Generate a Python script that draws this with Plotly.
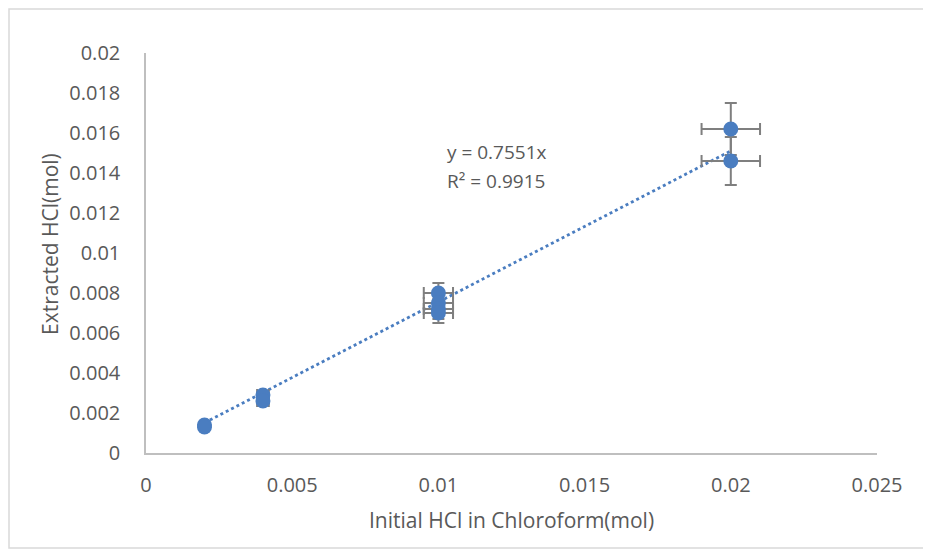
import plotly.graph_objects as go

# Data
initial_hcl = [0.002, 0.002, 0.004, 0.004, 0.01, 0.01, 0.01, 0.01, 0.02, 0.02]
extracted_hcl = [0.0014, 0.0013, 0.0029, 0.0026, 0.0080, 0.0075, 0.0072, 0.0070, 0.0162, 0.0146]
x_err = [0.0001, 0.0001, 0.0002, 0.0002, 0.0005, 0.0005, 0.0005, 0.0005, 0.001, 0.001]
y_err = [0.0001, 0.0001, 0.0002, 0.0002, 0.0005, 0.0005, 0.0005, 0.0005, 0.0013, 0.0012]

trend_slope = 0.7551
trend_r2 = 0.9915
trend_x = [0.002, 0.02]

x_ticks = [0, 0.005, 0.01, 0.015, 0.02, 0.025]
x_tick_labels = ["0", "0.005", "0.01", "0.015", "0.02", "0.025"]
y_ticks = [0, 0.002, 0.004, 0.006, 0.008, 0.01, 0.012, 0.014, 0.016, 0.018, 0.02]
y_tick_labels = ["0", "0.002", "0.004", "0.006", "0.008", "0.01", "0.012", "0.014", "0.016", "0.018", "0.02"]

BLUE = "#4A7DC0"
GRAY_TXT = "#595959"
FONT = "Open Sans"

# page offsets (browser body margin of 8px)
PL, PT, PW, PH = 146, 53, 731, 400


def px(page_x):
    return (page_x - PL) / PW


def py(page_y):
    return (PT + PH - page_y) / PH


fig = go.Figure()

fig.add_trace(go.Scatter(
    x=trend_x, y=[trend_slope * v for v in trend_x],
    mode="lines", line=dict(color=BLUE, width=2.8, dash="dot"),
    hoverinfo="skip", showlegend=False,
))

fig.add_trace(go.Scatter(
    x=initial_hcl, y=extracted_hcl, mode="markers",
    marker=dict(color=BLUE, size=15),
    error_x=dict(type="data", array=x_err, color="#7f7f7f", thickness=2, width=6),
    error_y=dict(type="data", array=y_err, color="#7f7f7f", thickness=2, width=6),
    showlegend=False,
))

fig.add_annotation(
    x=px(445), y=py(152), xref="paper", yref="paper", xanchor="left", yanchor="middle",
    text=f"y = {trend_slope}x", showarrow=False,
    font=dict(family=FONT, size=19, color=GRAY_TXT),
)
fig.add_annotation(
    x=px(445), y=py(181), xref="paper", yref="paper", xanchor="left", yanchor="middle",
    text=f"R² = {trend_r2}", showarrow=False,
    font=dict(family=FONT, size=19, color=GRAY_TXT),
)

# axis titles
fig.add_annotation(
    x=0.5, y=py(520), xref="paper", yref="paper", xanchor="center", yanchor="middle",
    text="Initial HCl in Chloroform(mol)", showarrow=False,
    font=dict(family=FONT, size=21, color=GRAY_TXT),
)
fig.add_annotation(
    x=px(50), y=py(244), xref="paper", yref="paper", xanchor="center", yanchor="middle",
    text="Extracted HCl(mol)", showarrow=False, textangle=-90,
    font=dict(family=FONT, size=21, color=GRAY_TXT),
)

fig.update_xaxes(
    range=[0, 0.025], tickvals=x_ticks, ticktext=x_tick_labels,
    showgrid=False, zeroline=False, showline=True, linecolor="#bfbfbf", linewidth=1.5,
    ticks="", tickfont=dict(family=FONT, size=20, color=GRAY_TXT), ticklabelstandoff=13,
)
fig.update_yaxes(
    range=[0, 0.02], tickvals=y_ticks, ticktext=y_tick_labels,
    showgrid=False, zeroline=False, showline=True, linecolor="#bfbfbf", linewidth=1.5,
    ticks="", tickfont=dict(family=FONT, size=20, color=GRAY_TXT), ticklabelstandoff=20,
)

fig.add_shape(type="rect", xref="paper", yref="paper",
              x0=px(9), x1=px(925), y0=py(548), y1=py(9),
              line=dict(color="#d9d9d9", width=1.5), layer="below")

fig.update_layout(
    width=923, height=544,
    margin=dict(l=PL - 8, r=54, t=PT - 8, b=99),
    paper_bgcolor="white", plot_bgcolor="white",
    font=dict(family=FONT, color=GRAY_TXT),
)

fig.write_html("out.html")
